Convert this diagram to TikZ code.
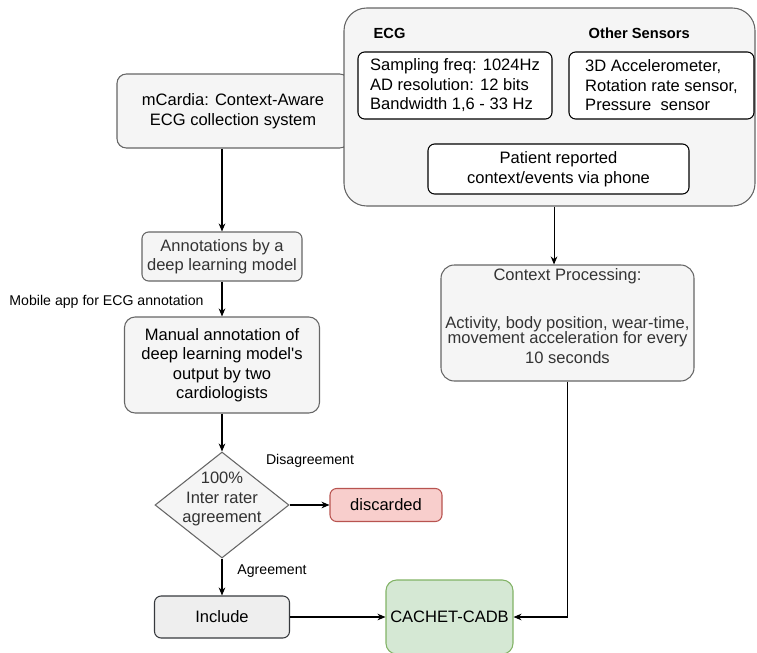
\documentclass[tikz,border=0pt]{standalone}
\usepackage{fontspec}
\setmainfont{Liberation Sans}
\usetikzlibrary{shapes.geometric,arrows.meta}

\definecolor{boxfill}{HTML}{F5F5F5}
\definecolor{boxline}{HTML}{666666}
\definecolor{boxtext}{HTML}{333333}
\definecolor{incfill}{HTML}{EEEEEE}
\definecolor{incline}{HTML}{36393D}
\definecolor{redfill}{HTML}{F8CECC}
\definecolor{redline}{HTML}{B85450}
\definecolor{greenfill}{HTML}{D5E8D4}
\definecolor{greenline}{HTML}{82B366}

\begin{document}
\begin{tikzpicture}[x=0.75pt,y=-0.75pt]
  \tikzset{
    stage/.style={draw=boxline, fill=boxfill, text=boxtext, rounded corners=5pt,
      line width=0.8pt, align=center, inner sep=0pt,
      font=\fontsize{12.4}{14.6}\selectfont},
    spec/.style={stage, draw=black, fill=white, text=black, rounded corners=5pt},
    head/.style={anchor=west, font=\fontsize{11}{13}\selectfont\bfseries},
    note/.style={font=\fontsize{10.6}{12.5}\selectfont},
    arr/.style={-{Stealth[length=6pt,width=5pt]}, line width=0.8pt}
  }
  \useasboundingbox (0,0) rectangle (757,653);

  % recording device, left part hidden under the sensor panel
  \node[stage, text=black, rounded corners=7pt, minimum width=174pt, minimum height=55.5pt]
    (mcardia) at (233,111) {mCardia: Context-Aware\\ECG collection system};

  \node[stage, rounded corners=17pt, minimum width=308.25pt, minimum height=148.5pt]
    (sensors) at (549.5,107) {};
  \node[head] (ecghead) at (369,33) {ECG};
  \node[head] (othhead) at (584,33) {Other Sensors};
  \node[spec, align=left, minimum width=145.5pt, minimum height=50.25pt]
    (ecgspec) at (455,85.5) {Sampling freq: 1024Hz\\AD resolution: 12 bits\\Bandwidth 1,6 - 33 Hz};
  \node[spec, align=left, minimum width=138.75pt, minimum height=50.25pt]
    (othspec) at (661.5,85.5) {3D Accelerometer,\\Rotation rate sensor,\\Pressure\ \ sensor};
  \node[spec, minimum width=195.75pt, minimum height=37.5pt]
    (patient) at (558.5,169) {Patient reported\\context/events via phone};

  % annotation branch
  \node[stage, minimum width=120pt, minimum height=36.75pt]
    (annot) at (222,256.5) {Annotations by a\\deep learning model};
  \node[stage, text=black, rounded corners=8pt, minimum width=146.25pt, minimum height=72pt]
    (manual) at (222,365) {Manual annotation of\\deep learning model\textquotesingle s\\output by two\\cardiologists};
  \node[shape=diamond, draw=boxline, fill=boxfill, line width=0.8pt, inner sep=0pt,
    minimum width=100.5pt, minimum height=79.5pt] (decision) at (222,505) {};
  \node[align=center, text=boxtext, font=\fontsize{12.4}{14.3}\selectfont]
    (decisiontxt) at (222,499) {100\%\\Inter rater\\agreement};
  \node[stage, draw=redline, fill=redfill, text=black, minimum width=84pt, minimum height=24.75pt]
    (discarded) at (386,505) {discarded};
  \node[stage, draw=incline, fill=incfill, text=black, minimum width=101.25pt, minimum height=31.5pt]
    (include) at (222,617) {Include};

  % context branch
  \node[stage, rounded corners=10pt, minimum width=189.75pt, minimum height=87pt]
    (ctx) at (567.5,323) {};
  \node[align=center, text=boxtext, font=\fontsize{12.4}{11.7}\selectfont]
    (ctxtxt) at (567.5,316) {Context Processing:\\[24.3pt]Activity, body position, wear-time,\\movement acceleration for every\\[3.3pt]10 seconds};

  \node[stage, draw=greenline, fill=greenfill, text=black, rounded corners=8pt,
    minimum width=95.25pt, minimum height=55.5pt] (cachet) at (449.5,617) {CACHET-CADB};

  \node[note] (applbl) at (106.5,302) {Mobile app for ECG annotation};
  \node[note] (dislbl) at (310,461) {Disagreement};
  \node[note] (agrlbl) at (272,571) {Agreement};

  \draw[arr] (annot.north |- mcardia.south) -- (annot.north);
  \draw[arr] (annot.south) -- (manual.north);
  \draw[arr] (manual.south) -- (decision.north);
  \draw[arr] (decision.east) -- (discarded.west);
  \draw[arr] (decision.south) -- (include.north);
  \draw[arr] (include.east) -- (cachet.west);
  \draw[arr] ([xshift=3.4pt]sensors.south) coordinate (tap) -- (tap |- ctx.north);
  \draw[arr] (ctx.south) |- (cachet.east);
\end{tikzpicture}
\end{document}
